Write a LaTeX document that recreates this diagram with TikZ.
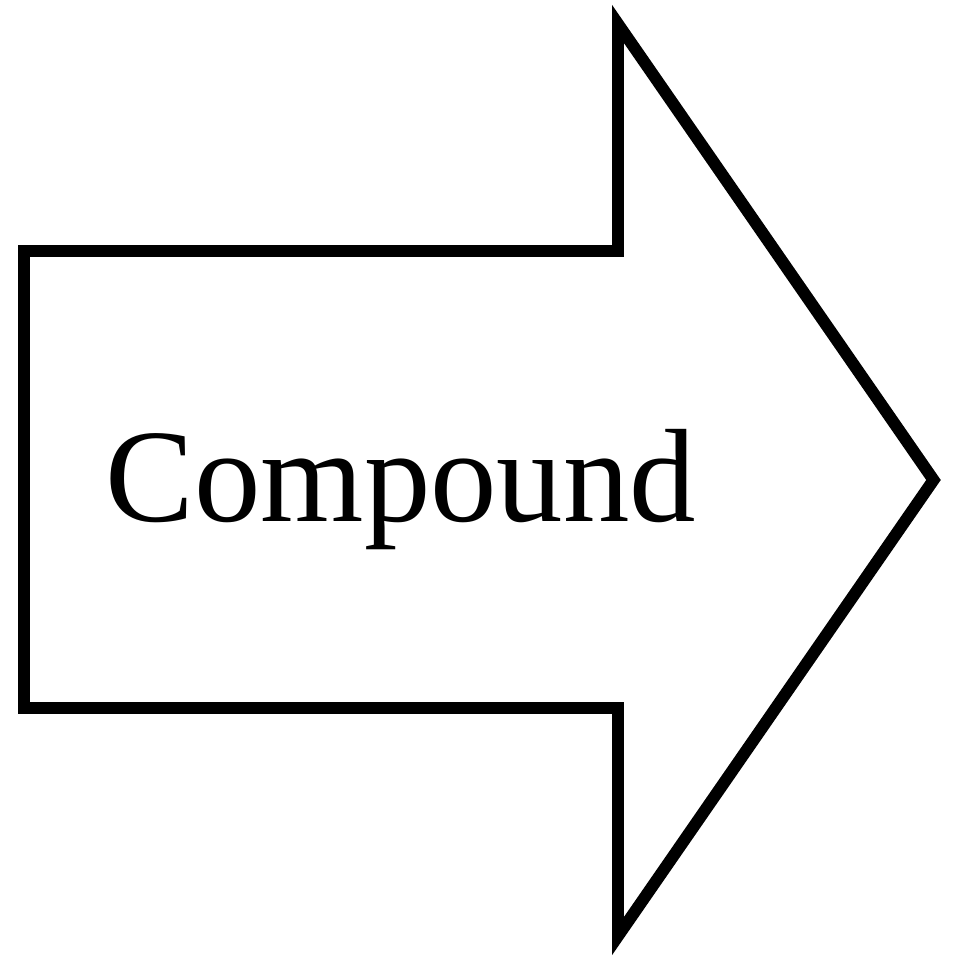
\documentclass[tikz,border=0pt]{standalone}
\usepackage{fontspec}
\setmainfont{Liberation Serif}

\begin{document}
\begin{tikzpicture}[every node/.style={font=\fontsize{37.8}{40}\selectfont}]
	\useasboundingbox (0,0) rectangle (9.61,9.57);
	% arrow outline
	\draw[line width=3.4pt, miter limit=10] (0.24,7.06) -- (6.18,7.06) -- (6.18,9.33) -- (9.335,4.77) -- (6.18,0.21) -- (6.18,2.49) -- (0.24,2.49) -- cycle;
	\node[anchor=base, inner sep=0pt] (label) at (4.01,4.36) {Compound};
\end{tikzpicture}
\end{document}
